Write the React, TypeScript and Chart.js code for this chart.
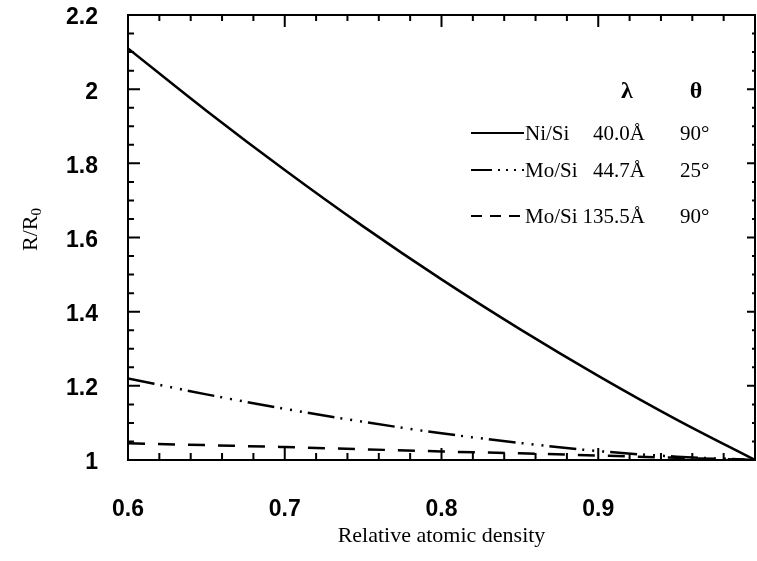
import React, { useEffect, useRef } from "react";
import { Chart, registerables } from "chart.js";

Chart.register(...registerables);

// ---- data ----
const density = [0.6, 0.65, 0.7, 0.75, 0.8, 0.85, 0.9, 0.95, 1.0];
const niSi40 = [2.11, 1.942, 1.782, 1.63, 1.487, 1.353, 1.227, 1.109, 1.0];
const moSi447 = [1.22, 1.177, 1.138, 1.103, 1.072, 1.046, 1.024, 1.009, 1.0];
const moSi1355 = [1.045, 1.04, 1.035, 1.029, 1.023, 1.018, 1.012, 1.006, 1.0];

const xTickLabels = ["0.6", "0.7", "0.8", "0.9"];
const yTickLabels = ["1", "1.2", "1.4", "1.6", "1.8", "2", "2.2"];

const legendMaterials = ["Ni/Si", "Mo/Si", "Mo/Si"];
const legendLambda = ["40.0Å", "44.7Å", "135.5Å"];
const legendTheta = ["90°", "25°", "90°"];

const xTitle = "Relative atomic density";

const DASH_DOT3 = [27, 6, 2, 8, 2, 8, 2, 6];
const DASHED = [17, 13];
const lineDashes = [[], DASH_DOT3, DASHED];

const frameAndExtras = {
  id: "frameAndExtras",
  afterDraw(chart: any) {
    const { ctx, chartArea } = chart;
    const xs = chart.scales.x;
    const ys = chart.scales.y;
    const { left, right, top, bottom } = chartArea;
    ctx.save();
    ctx.strokeStyle = "#000";
    ctx.fillStyle = "#000";
    ctx.lineWidth = 2;
    ctx.setLineDash([]);
    ctx.strokeRect(left, top, right - left, bottom - top);

    // x ticks (bottom & top), every 0.02, major every 0.1
    for (let i = 0; i <= 20; i++) {
      const v = 0.6 + i * 0.02;
      const px = xs.getPixelForValue(v);
      const major = i % 5 === 0;
      const lb = major ? 12 : 7;
      const lt = major ? 12 : 6;
      ctx.beginPath();
      ctx.moveTo(px, bottom);
      ctx.lineTo(px, bottom - lb);
      ctx.moveTo(px, top);
      ctx.lineTo(px, top + lt);
      ctx.stroke();
    }
    // y ticks (left & right), every 0.05, major every 0.2
    for (let i = 0; i <= 24; i++) {
      const v = 1 + i * 0.05;
      const py = ys.getPixelForValue(v);
      const major = i % 4 === 0;
      ctx.beginPath();
      ctx.moveTo(left, py);
      ctx.lineTo(left + (major ? 12 : 6), py);
      ctx.moveTo(right, py);
      ctx.lineTo(right - (major ? 8 : 3), py);
      ctx.stroke();
    }

    // y-axis title R/R0 (rotated)
    ctx.save();
    const f1 = '22px "Liberation Serif"';
    const f2 = '15px "Liberation Serif"';
    ctx.font = f1;
    const w1 = ctx.measureText("R/R").width;
    ctx.font = f2;
    const w2 = ctx.measureText("0").width;
    ctx.translate(37, 208 + w1 + w2);
    ctx.rotate(-Math.PI / 2);
    ctx.textBaseline = "alphabetic";
    ctx.textAlign = "left";
    ctx.font = f1;
    ctx.fillText("R/R", 0, 0);
    ctx.font = f2;
    ctx.fillText("0", w1, 4);
    ctx.restore();

    // legend block
    ctx.textBaseline = "alphabetic";
    ctx.font = 'bold 24px "Liberation Serif"';
    ctx.textAlign = "center";
    ctx.fillText("λ", 627, 98);
    ctx.fillText("θ", 696, 98);
    ctx.font = '21px "Liberation Serif"';
    const baselines = [140, 177, 223];
    for (let r = 0; r < 3; r++) {
      const by = baselines[r];
      const ly = by - 7;
      ctx.lineWidth = 2;
      ctx.setLineDash(r === 2 ? [11, 8] : r === 1 ? [21, 6, 2, 6, 2, 6, 2, 6] : []);
      ctx.beginPath();
      ctx.moveTo(471, ly);
      ctx.lineTo(524, ly);
      ctx.stroke();
      ctx.setLineDash([]);
      ctx.textAlign = "left";
      ctx.fillText(legendMaterials[r], 525, by);
      ctx.textAlign = "right";
      ctx.fillText(legendLambda[r], 645, by);
      ctx.textAlign = "left";
      ctx.fillText(legendTheta[r], 680, by);
    }
    ctx.restore();
  },
};

export default function App() {
  const ref = useRef<HTMLCanvasElement>(null);
  useEffect(() => {
    const canvas = ref.current!;
    const mk = (ys: number[]) => density.map((x, i) => ({ x, y: ys[i] }));
    const chart = new Chart(canvas, {
      type: "line",
      data: {
        datasets: [
          { label: "Ni/Si 40.0Å 90°", data: mk(niSi40), borderColor: "#000", borderWidth: 2.5, pointRadius: 0, cubicInterpolationMode: "monotone", borderDash: lineDashes[0] },
          { label: "Mo/Si 44.7Å 25°", data: mk(moSi447), borderColor: "#000", borderWidth: 2.5, pointRadius: 0, cubicInterpolationMode: "monotone", borderDash: lineDashes[1] },
          { label: "Mo/Si 135.5Å 90°", data: mk(moSi1355), borderColor: "#000", borderWidth: 2.5, pointRadius: 0, cubicInterpolationMode: "monotone", borderDash: lineDashes[2] },
        ],
      },
      options: {
        responsive: false,
        animation: false,
        devicePixelRatio: 1,
        layout: { padding: { top: 15, right: 2, left: 0, bottom: 0 } },
        plugins: { legend: { display: false }, tooltip: { enabled: false } },
        scales: {
          x: {
            type: "linear",
            min: 0.6,
            max: 1.0,
            grid: { display: true, drawOnChartArea: false, drawTicks: true, tickLength: 36, color: "rgba(0,0,0,0)" },
            border: { display: false },
            ticks: {
              stepSize: 0.1,
              padding: 0,
              color: "#000",
              font: { family: "Liberation Sans", size: 23, weight: "bold" },
              maxRotation: 0,
              callback: (v: any) => {
                const idx = Math.round((Number(v) - 0.6) * 10);
                return xTickLabels[idx] ?? "";
              },
            },
            title: {
              display: true,
              text: xTitle,
              color: "#000",
              font: { family: "Liberation Serif", size: 22 },
              padding: { top: 0, bottom: 12 },
            },
            afterFit: (s: any) => {
              s.height = 101;
            },
          },
          y: {
            type: "linear",
            min: 1,
            max: 2.2,
            grid: { display: true, drawOnChartArea: false, drawTicks: true, tickLength: 30, color: "rgba(0,0,0,0)" },
            border: { display: false },
            ticks: {
              stepSize: 0.2,
              padding: 0,
              labelOffset: 3,
              color: "#000",
              font: { family: "Liberation Sans", size: 23, weight: "bold" },
              callback: (v: any) => {
                const idx = Math.round((Number(v) - 1) * 5);
                return yTickLabels[idx] ?? "";
              },
            },
            afterFit: (s: any) => {
              s.width = 128;
            },
          },
        },
      } as any,
      plugins: [frameAndExtras],
    });
    return () => chart.destroy();
  }, []);
  return (
    <div style={{ position: "absolute", left: 0, top: 0, width: 757, height: 561, background: "#fff" }}>
      <canvas ref={ref} width={757} height={561} style={{ display: "block" }} />
    </div>
  );
}
